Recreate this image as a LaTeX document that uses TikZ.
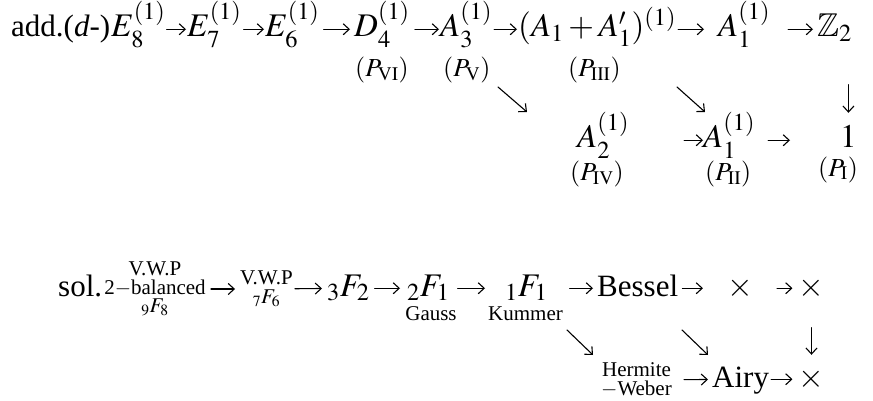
\documentclass[tikz,border=0pt]{standalone}
\usepackage{mathptmx}
\usepackage{amssymb}
\usepackage[no-math]{fontspec}
\setmainfont{Liberation Serif}
\usetikzlibrary{arrows.meta}

\tikzset{
  cell/.style={inner sep=0pt, text height=22pt, text depth=6.5pt, anchor=base west, font=\fontsize{33}{38}\selectfont},
  word/.style={cell, font=\fontsize{31}{36}\selectfont},
  lbl/.style={inner sep=0pt, anchor=base west, font=\fontsize{26}{30}\selectfont},
  stack/.style={inner sep=0pt, align=center, font=\fontsize{21}{18.5}\selectfont},
  small/.style={inner sep=0pt, anchor=base, font=\fontsize{21}{24}\selectfont},
  arr/.style={line width=1.1pt, -{Straight Barb[length=6pt,width=11pt]}, shorten <=2pt, shorten >=1pt},
}

\begin{document}
\begin{tikzpicture}[x=1pt, y=-1pt, font=\fontsize{31}{36}\selectfont, line join=round, line cap=round]
  \useasboundingbox (0,0) rectangle (873,401);
  % additive difference equations
  \node[word] (add)  at (11,37)  {add.(\textit{d}-)};
  \node[cell] (E8)   at (111,37) {$E_8^{(1)}$};
  \node[cell] (E7)   at (187,37) {$E_7^{(1)}$};
  \node[cell] (E6)   at (265,37) {$E_6^{(1)}$};
  \node[cell] (D4)   at (354,37) {$D_4^{(1)}$};
  \node[cell] (A3)   at (440,37) {$A_3^{(1)}$};
  \node[cell] (A1A1) at (518,37) {$(A_1+A_1')^{(1)}$};
  \node[cell] (A1t)  at (718,37) {$A_1^{(1)}$};
  \node[cell] (Z2)   at (817,37) {$\mathbb{Z}_2$};
  \node[lbl] (PVI)  at (355,77) {$(P_{\mathrm{VI}})$};
  \node[lbl] (PV)   at (443,77) {$(P_{\mathrm{V}})$};
  \node[lbl] (PIII) at (568,77) {$(P_{\mathrm{III}})$};
  \node[cell] (A2)  at (577,148) {$A_2^{(1)}$};
  \node[cell] (A1b) at (703,148) {$A_1^{(1)}$};
  \node[cell] (one) at (840,148) {$1$};
  \node[lbl] (PIV) at (570,181) {$(P_{\mathrm{IV}})$};
  \node[lbl] (PII) at (705,181) {$(P_{\mathrm{II}})$};
  \node[lbl] (PI)  at (818,176) {$(P_{\mathrm{I}})$};
  \draw[arr, shorten <=1pt] (E8) -- (E7);
  \draw[arr] (E7) -- (E6);
  \draw[arr, shorten <=4pt, shorten >=4pt] (E6) -- (D4);
  \draw[arr, shorten <=5pt] (D4) -- (A3);
  \draw[arr] (A3) -- (A1A1);
  \draw[arr, shorten >=14pt] (A1A1) -- (A1t);
  \draw[arr, shorten <=18pt, shorten >=4pt] (A1t) -- (Z2);
  \draw[arr, shorten <=55pt, shorten >=0pt] (A2) -- (A1b);
  \draw[arr, shorten <=13pt, shorten >=50pt] (A1b) -- (one);
  \draw[arr, shorten <=41pt, shorten >=13pt] (Z2.south -| one) -- (one.north);
  \coordinate (d1a) at (498,87);  \coordinate (d1b) at (527,112);
  \coordinate (d2a) at (677,87);  \coordinate (d2b) at (705,112);
  \draw[arr, shorten <=0pt, shorten >=0pt] (d1a) -- (d1b);
  \draw[arr, shorten <=0pt, shorten >=0pt] (d2a) -- (d2b);
  % solutions
  \node[word] (sol) at (58,296) {sol.};
  \node[stack] (VWP9) at (155,289) {V.W.P\\2$-$balanced\\${}_9F_8$};
  \node[stack] (VWP7) at (266.5,289) {V.W.P\\${}_7F_6$};
  \node[cell] (F32) at (327,296) {${}_3F_2$};
  \node[cell] (F21) at (407,296) {${}_2F_1$};
  \node[cell] (F11) at (505,296) {${}_1F_1$};
  \node[small] (gauss)  at (431,320) {Gauss};
  \node[small] (kummer) at (525.5,320) {Kummer};
  \node[word] (bessel) at (597,296) {Bessel};
  \node[cell, anchor=base] (xa) at (740,296) {$\times$};
  \node[cell, anchor=base] (xb) at (811.5,296) {$\times$};
  \node[stack] (HW) at (636.5,380) {Hermite\\$-$Weber};
  \node[word] (airy) at (712,387) {Airy};
  \node[cell, anchor=base] (xc) at (811.5,387) {$\times$};
  \draw[arr, shorten <=5pt, shorten >=5pt] (VWP9) -- (VWP7);
  \draw[arr, shorten >=5pt] (VWP7) -- (F32);
  \draw[arr, shorten <=5pt, shorten >=7pt] (F32) -- (F21);
  \draw[arr, shorten <=8pt, shorten >=20pt] (F21) -- (F11);
  \draw[arr, shorten <=22pt, shorten >=4pt] (F11) -- (bessel);
  \draw[arr, shorten <=4pt, shorten >=24pt] (bessel) -- (xa);
  \draw[arr, shorten <=24pt, shorten >=6pt] (xa) -- (xb);
  \draw[arr, shorten <=12pt, shorten >=4pt] (HW) -- (airy);
  \draw[arr, shorten <=2pt, shorten >=6pt] (airy) -- (xc);
  \draw[arr, shorten <=25pt, shorten >=10pt] (xb) -- (xc);
  \coordinate (d3a) at (567,330);  \coordinate (d3b) at (593,355);
  \coordinate (d4a) at (682,330);  \coordinate (d4b) at (708,355);
  \draw[arr, shorten <=0pt, shorten >=0pt] (d3a) -- (d3b);
  \draw[arr, shorten <=0pt, shorten >=0pt] (d4a) -- (d4b);
\end{tikzpicture}
\end{document}
